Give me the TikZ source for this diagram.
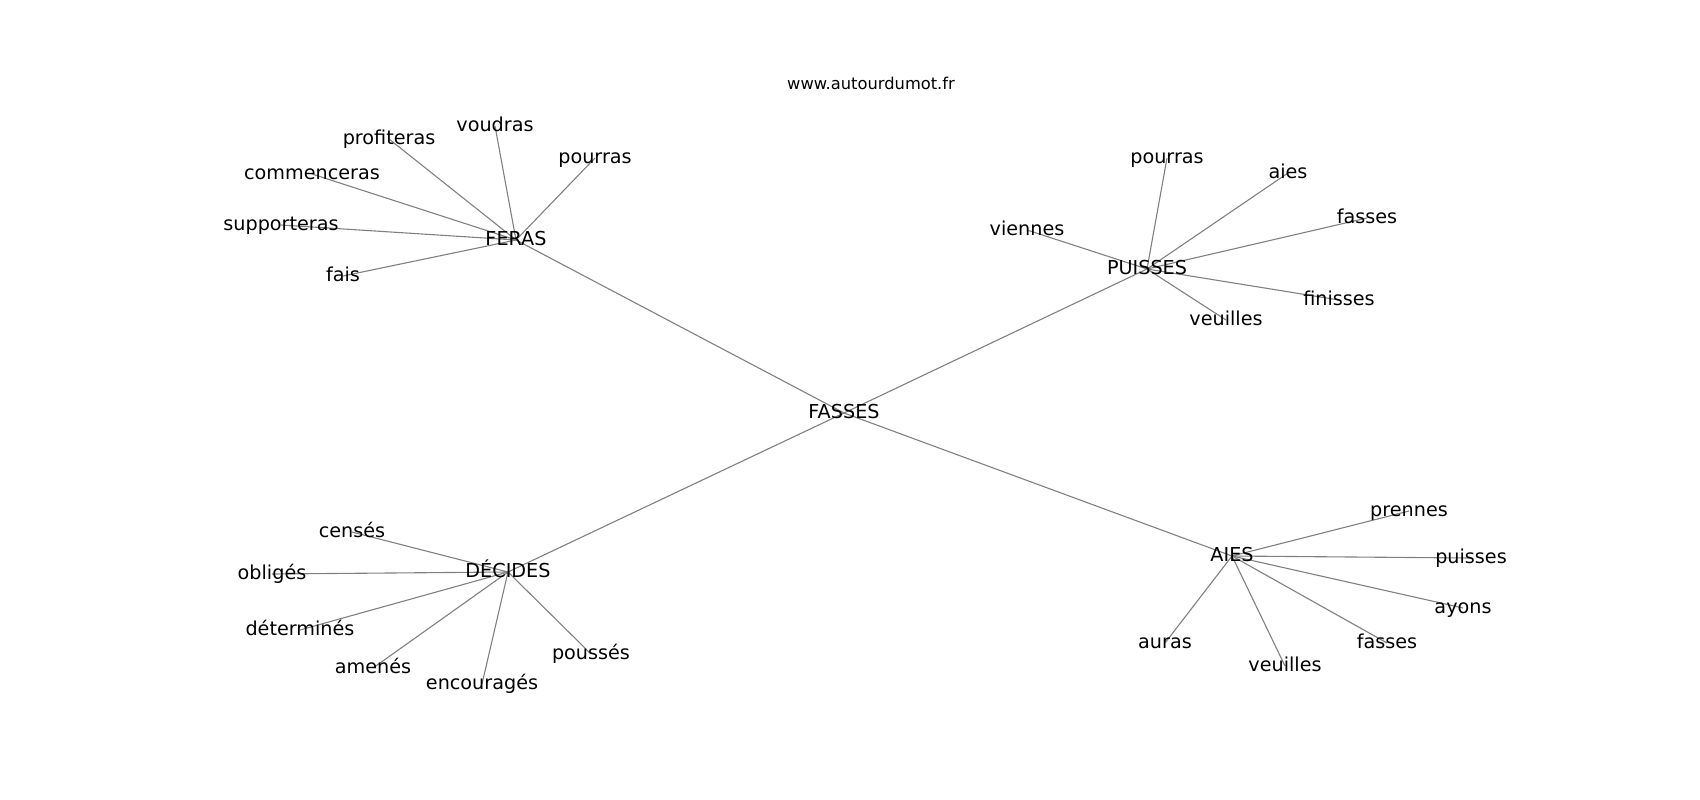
\documentclass[tikz,border=0pt]{standalone}
\usepackage{fontspec}
\setmainfont{DejaVu Sans}
\usetikzlibrary{backgrounds}
\definecolor{edgegray}{RGB}{128,128,128}
\tikzset{
  word/.style={inner sep=0pt, outer sep=0pt, text height=14.6pt, text depth=4.6pt,
    font=\fontsize{19.2}{23}\selectfont, text=black, anchor=center},
  link/.style={draw=edgegray, line width=1.1pt},
  titletext/.style={inner sep=0pt, anchor=base, font=\fontsize{16.3}{20}\selectfont, text=black}
}
\begin{document}
\begin{tikzpicture}[x=1pt,y=-1pt]
\useasboundingbox (0,0) rectangle (1700,800);
\node[titletext] (title) at (871,89) {www.autourdumot.fr};
% hubs
\node[word] (fasses0) at (844,413) {FASSES};
\node[word] (feras) at (516,240) {FERAS};
\node[word] (puisses0) at (1147,269) {PUISSES};
\node[word] (decides) at (508,572) {DÉCIDES};
\node[word] (aies0) at (1232,556) {AIES};
% FERAS leaves
\node[word] (profiteras) at (389,139) {profiteras};
\node[word] (voudras) at (495,126) {voudras};
\node[word] (pourrasA) at (595,158) {pourras};
\node[word] (commenceras) at (312,174) {commenceras};
\node[word] (supporteras) at (281,225) {supporteras};
\node[word] (fais) at (343,276) {fais};
% PUISSES leaves
\node[word] (pourrasB) at (1167,158) {pourras};
\node[word] (aiesB) at (1288,173) {aies};
\node[word] (viennes) at (1027,230) {viennes};
\node[word] (fassesB) at (1367,218) {fasses};
\node[word] (finisses) at (1339,300) {finisses};
\node[word] (veuillesB) at (1226,320) {veuilles};
% DECIDES leaves
\node[word] (censes) at (352,532) {censés};
\node[word] (obliges) at (272,574) {obligés};
\node[word] (determines) at (300,630) {déterminés};
\node[word] (amenes) at (373,668) {amenés};
\node[word] (encourages) at (482,684) {encouragés};
\node[word] (pousses) at (591,654) {poussés};
% AIES leaves
\node[word] (prennes) at (1409,511) {prennes};
\node[word] (puissesC) at (1471,558) {puisses};
\node[word] (ayons) at (1463,608) {ayons};
\node[word] (fassesC) at (1387,643) {fasses};
\node[word] (veuillesC) at (1285,666) {veuilles};
\node[word] (auras) at (1165,643) {auras};
\begin{scope}[on background layer]
\foreach \h in {feras,puisses0,decides,aies0}
  \draw[link] (fasses0.center) -- (\h.center);
\foreach \l in {profiteras,voudras,pourrasA,commenceras,supporteras,fais}
  \draw[link] (feras.center) -- (\l.center);
\foreach \l in {pourrasB,aiesB,viennes,fassesB,finisses,veuillesB}
  \draw[link] (puisses0.center) -- (\l.center);
\foreach \l in {censes,obliges,determines,amenes,encourages,pousses}
  \draw[link] (decides.center) -- (\l.center);
\foreach \l in {prennes,puissesC,ayons,fassesC,veuillesC,auras}
  \draw[link] (aies0.center) -- (\l.center);
\end{scope}
\end{tikzpicture}
\end{document}
